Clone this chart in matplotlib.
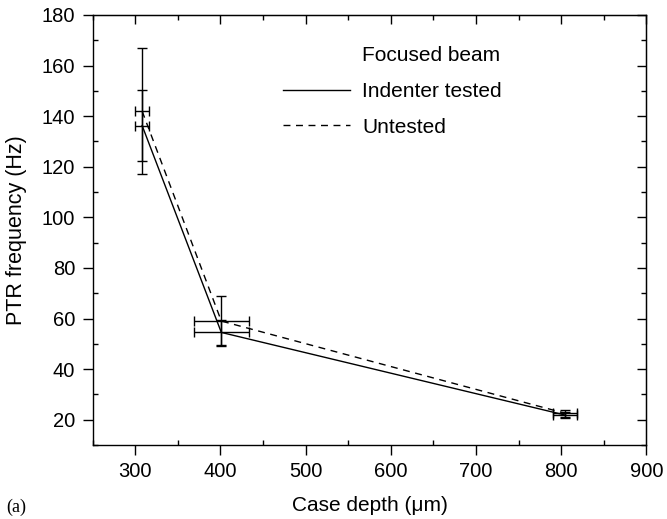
import matplotlib.pyplot as plt
from matplotlib.lines import Line2D
from matplotlib.ticker import MultipleLocator

plt.rcParams['font.family'] = ['Liberation Sans', 'DejaVu Sans']

# dati
depth = [308, 401, 805]
depth_err = [8.5, 32, 14]

tested = [136.3, 54.5, 21.8]
tested_err = [14, 5, 1.2]

untested = [142, 59, 22.5]
untested_err = [25, 10, 1.5]

fig = plt.figure(figsize=(6.67, 5.19), dpi=100)
ax = fig.add_axes([0.139, 0.1426, 0.830, 0.8285])

ax.errorbar(depth, tested, yerr=tested_err, xerr=depth_err, color='black',
            lw=1, elinewidth=1, capsize=3.3, capthick=1, ls='-')
ax.errorbar(depth, untested, yerr=untested_err, xerr=depth_err, color='black',
            lw=1, elinewidth=1, capsize=3.3, capthick=1, ls=(0, (5, 4)))

ax.set_xlim(250, 900)
ax.set_ylim(10, 180)
ax.xaxis.set_major_locator(MultipleLocator(100))
ax.xaxis.set_minor_locator(MultipleLocator(50))
ax.yaxis.set_major_locator(MultipleLocator(20))
ax.yaxis.set_minor_locator(MultipleLocator(10))

ax.tick_params(which='major', direction='out', length=7, width=1,
               labelsize=14.5, pad=5.5, top=False, right=False)
ax.tick_params(which='minor', direction='in', length=3.6, width=1,
               top=False, right=False)
# assi superiore e destro: tacche verso l'interno
sec_x = ax.secondary_xaxis('top')
sec_x.xaxis.set_major_locator(MultipleLocator(100))
sec_x.xaxis.set_minor_locator(MultipleLocator(50))
sec_x.tick_params(which='both', direction='in', labeltop=False, width=1)
sec_x.tick_params(which='major', length=6.5)
sec_x.tick_params(which='minor', length=3.6)
sec_y = ax.secondary_yaxis('right')
sec_y.yaxis.set_major_locator(MultipleLocator(20))
sec_y.yaxis.set_minor_locator(MultipleLocator(10))
sec_y.tick_params(which='both', direction='in', labelright=False, width=1)
sec_y.tick_params(which='major', length=6.5)
sec_y.tick_params(which='minor', length=3.6)

for s in ax.spines.values():
    s.set_linewidth(1)

ax.set_xlabel('Case depth (\u03bcm)', fontsize=15)
ax.set_ylabel('PTR frequency (Hz)', fontsize=15.5)
ax.xaxis.set_label_coords(0.5, -0.118)
ax.yaxis.set_label_coords(-0.119, 0.5)

handles = [Line2D([], [], color='none'),
           Line2D([], [], color='black', lw=1),
           Line2D([], [], color='black', lw=1, ls=(0, (5, 4)))]
labels = ['Focused beam', 'Indenter tested', 'Untested']
ax.legend(handles, labels, loc='upper left', bbox_to_anchor=(0.344, 0.927),
          frameon=False, fontsize=15, handlelength=3.2, handletextpad=0.58,
          labelspacing=0.8, borderpad=0, borderaxespad=0)

fig.text(0.01, 0.023, '(a)', fontsize=13, va='center',
         family=['Liberation Serif'])

fig.savefig('out.png', dpi=100)
